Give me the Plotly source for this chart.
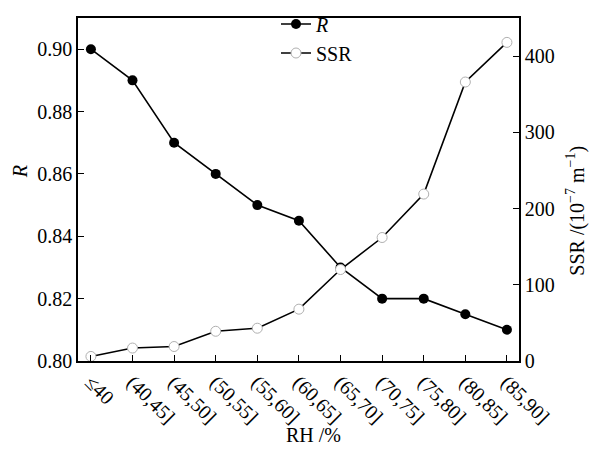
import plotly.graph_objects as go

categories = ["≤40", "(40,45]", "(45,50]", "(50,55]", "(55,60]", "(60,65]",
              "(65,70]", "(70,75]", "(75,80]", "(80,85]", "(85,90]"]
r_values = [0.90, 0.89, 0.87, 0.86, 0.85, 0.845, 0.83, 0.82, 0.82, 0.815, 0.81]
ssr_values = [6, 17, 19, 39, 43, 68, 120, 162, 219, 366, 418]

FONT = "Liberation Serif"
FS = 20
W, H = 591, 449
L, R, T, B = 78, 72, 5, 88
xs = list(range(len(categories)))

fig = go.Figure()
fig.add_trace(go.Scatter(
    x=xs, y=r_values, name="<i>R</i>", mode="lines+markers",
    line=dict(color="black", width=1.6),
    marker=dict(symbol="circle", size=10, color="black"),
    yaxis="y"))
fig.add_trace(go.Scatter(
    x=xs, y=ssr_values, name="SSR", mode="lines+markers",
    line=dict(color="black", width=1.6),
    marker=dict(symbol="circle", size=10, color="white",
                line=dict(color="#b0b0b0", width=1)),
    yaxis="y2"))

pw = W - L - R
ph = H - T - B


def px_x(p):
    return (p - L) / pw


def px_y(p):
    return (H - B - p) / ph


fig.update_layout(
    width=W, height=H,
    margin=dict(l=L, r=R, t=T, b=B),
    paper_bgcolor="white", plot_bgcolor="white",
    font=dict(family=FONT, size=FS, color="black"),
    showlegend=True,
    legend=dict(x=px_x(276), y=px_y(-9), xanchor="left", yanchor="top",
                bgcolor="rgba(0,0,0,0)", font=dict(size=FS),
                tracegroupgap=0),
    xaxis=dict(
        range=[-0.31, 10.29], tickmode="array", tickvals=xs, ticktext=categories,
        tickangle=45, showline=True, linecolor="black", linewidth=1.5,
        mirror=True, ticks="inside", ticklen=6, tickcolor="black",
        showgrid=False, zeroline=False, automargin=False,
        tickfont=dict(size=FS)),
    yaxis=dict(
        range=[0.80, 0.91], tickvals=[0.80, 0.82, 0.84, 0.86, 0.88, 0.90],
        tickformat=".2f", showline=True, linecolor="black", linewidth=1.5,
        ticks="inside", ticklen=6, tickcolor="black",
        showgrid=False, zeroline=False, automargin=False,
        tickfont=dict(size=FS)),
    yaxis2=dict(
        range=[0, 450], tickvals=[0, 100, 200, 300, 400], overlaying="y",
        side="right", showline=True, linecolor="black", linewidth=1.5,
        ticks="inside", ticklen=6, tickcolor="black",
        showgrid=False, zeroline=False, automargin=False,
        tickfont=dict(size=FS)),
    annotations=[
        dict(text="RH /%", xref="paper", yref="paper", x=px_x(313), y=px_y(438),
             xanchor="center", yanchor="middle", showarrow=False,
             font=dict(size=FS)),
        dict(text="<i>R</i>", xref="paper", yref="paper", x=px_x(20), y=px_y(165),
             xanchor="center", yanchor="middle", showarrow=False, textangle=-90,
             font=dict(size=FS)),
        dict(text="SSR /(10<sup>−7</sup> m<sup>−1</sup>)", xref="paper", yref="paper",
             x=px_x(576), y=px_y(205), xanchor="center", yanchor="middle",
             showarrow=False, textangle=-90, font=dict(size=FS)),
    ],
)

fig.write_html("out.html", config={"displayModeBar": False},
               post_script="document.body.style.margin='0';document.body.style.overflow='hidden';")
